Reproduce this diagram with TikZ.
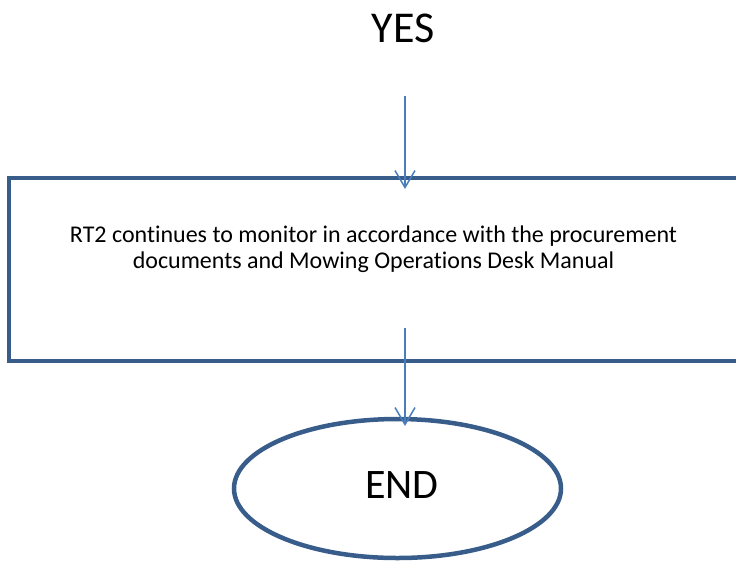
\documentclass[tikz,border=0pt]{standalone}
\usepackage{fontspec}
\setmainfont[Ligatures={NoCommon}]{Carlito}
\usetikzlibrary{arrows.meta,shapes.geometric}
\definecolor{shapeblue}{HTML}{385D8A}
\definecolor{arrowblue}{HTML}{4A7EBB}
\tikzset{
  flowline/.style={draw=arrowblue,line width=1.5pt,-{Straight Barb[length=17pt,width=20pt,line width=1.5pt]}},
  outline/.style={draw=shapeblue,line width=4.5pt},
}
\begin{document}
\begin{tikzpicture}[x=1pt,y=-1pt]
\useasboundingbox (0,0) rectangle (736,563);
\clip (0,0) rectangle (736,563);
\node[inner sep=0pt,anchor=base] (yes) at (403,42) {\fontsize{44}{50}\selectfont YES};
\node[outline,rectangle,inner sep=0pt,minimum width=730pt,minimum height=183pt] (box) at (374,269.5) {};
\node[inner sep=0pt,align=center,anchor=base,font=\fontsize{24}{26}\selectfont] (txt) at (373.5,268) {RT2 continues to monitor in accordance with the procurement\\documents and Mowing Operations Desk Manual};
\node[outline,ellipse,inner sep=0pt,minimum width=327pt,minimum height=139pt] (end) at (397.5,488.5) {};
\node[inner sep=0pt,anchor=base] (endtxt) at (402,498) {\fontsize{42}{50}\selectfont END};
\coordinate (s1) at (405,96);
\coordinate (e1) at (405,189);
\coordinate (s2) at (405,328);
\coordinate (e2) at (405,426);
\draw[flowline] (s1) -- (e1);
\draw[flowline] (s2) -- (e2);
\end{tikzpicture}
\end{document}
